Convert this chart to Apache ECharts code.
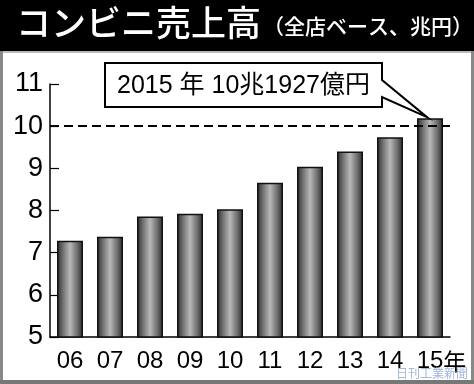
<!DOCTYPE html>
<html><head><meta charset="utf-8">
<script src="https://cdn.jsdelivr.net/npm/echarts@6/dist/echarts.min.js"></script>
<style>html,body{margin:0;padding:0;background:#fff}#c{width:474px;height:384px}</style>
</head><body><div id="c"></div>
<script>
var categories = ['06','07','08','09','10','11','12','13','14','15'];
var sales = [7.28, 7.38, 7.86, 7.92, 8.03, 8.66, 9.04, 9.40, 9.74, 10.19];
var yTicks = [5, 6, 7, 8, 9, 10, 11];
var refLine = 10;
var titleMain = 'コンビニ売上高';
var titleSub = '（全店ベース、兆円）';
var noteText = '2015 年 10兆1927億円';
var lastSuffix = '年';
var credit = '日刊工業新聞';

var FONT = "'Liberation Sans', Arial, 'Noto Sans CJK JP', sans-serif";
var chart = echarts.init(document.getElementById('c'), null, {renderer:'canvas'});
var barGrad = new echarts.graphic.LinearGradient(0,0,1,0,[
  {offset:0,color:'#2a2a2a'},{offset:0.22,color:'#6e6e6e'},{offset:0.5,color:'#b8b8b8'},{offset:0.78,color:'#6e6e6e'},{offset:1,color:'#2a2a2a'}]);

var option = {
  animation:false,
  backgroundColor:'#fff',
  grid:{left:50,right:24,top:84,bottom:47},
  xAxis:{type:'category',data:categories,
    axisLine:{lineStyle:{color:'#000',width:1.5}},
    axisTick:{inside:true,length:6,lineStyle:{color:'#000',width:1.2}},
    axisLabel:{color:'#000',fontSize:24,fontFamily:FONT,margin:12,interval:0,
      formatter:function(v,i){return i===categories.length-1 ? '{p|}'+v+'{y|'+lastSuffix+'}' : v;},
      rich:{p:{width:23,fontSize:24},y:{fontSize:23,fontFamily:"'Noto Sans CJK JP',sans-serif",color:'#000'}}}
  },
  yAxis:{type:'value',min:yTicks[0],max:yTicks[yTicks.length-1],interval:1,
    axisLine:{show:true,lineStyle:{color:'#000',width:1.5}},
    axisTick:{show:true,inside:true,length:9,lineStyle:{color:'#000',width:1.2}},
    splitLine:{show:false},
    axisLabel:{color:'#000',fontSize:27,fontFamily:FONT,margin:7}
  },
  series:[{type:'bar',data:sales,barWidth:'65%',
    itemStyle:{color:barGrad,borderColor:'#111',borderWidth:1.5},
    markLine:{silent:true,symbol:'none',label:{show:false},
      lineStyle:{color:'#000',type:[9,5],width:2},
      data:[{yAxis:refLine}]}
  }],
  graphic:[
    {type:'rect',shape:{x:0,y:0,width:474,height:51},style:{fill:'#000'},z:10},
    {type:'rect',shape:{x:0,y:51,width:474,height:2},style:{fill:'#bbb'},z:10},
    {type:'rect',shape:{x:0,y:51,width:3,height:333},style:{fill:'#888'},z:10},
    {type:'rect',shape:{x:471,y:51,width:3,height:333},style:{fill:'#888'},z:10},
    {type:'rect',shape:{x:0,y:380,width:474,height:4},style:{fill:'#777'},z:10},
    {type:'text',left:16,top:5,z:11,style:{
      text:'{a|'+titleMain+'}{b|'+titleSub+'}',
      rich:{a:{fontSize:35,fontWeight:500,fill:'#fff',fontFamily:"'Noto Sans CJK JP',sans-serif",verticalAlign:'bottom'},
            b:{fontSize:21,fontWeight:500,fill:'#fff',fontFamily:"'Noto Sans CJK JP',sans-serif",verticalAlign:'bottom',padding:[0,0,3,2]}}}},
    {type:'text',right:6,top:367,z:11,style:{text:credit,fontSize:12,fill:'#a3b8dc',fontFamily:"'Noto Sans CJK JP',sans-serif"}}
  ]
};
chart.setOption(option);

var tip = chart.convertToPixel({seriesIndex:0},[categories.length-1, sales[sales.length-1]]);
var bx0=105, by0=63, bx1=382, by1=107;
chart.setOption({graphic:option.graphic.concat([
  {type:'polygon',z:12,shape:{points:[[bx0,by0],[bx1,by0],[bx1,80],[tip[0]-3,tip[1]-1],[bx1,97],[bx1,by1],[bx0,by1]]},
    style:{fill:'#fff',stroke:'#000',lineWidth:2}},
  {type:'text',z:13,x:(bx0+bx1)/2,y:(by0+by1)/2+1,style:{text:noteText,align:'center',verticalAlign:'middle',fontSize:25,fill:'#000',fontFamily:FONT}}
])});
</script></body></html>
